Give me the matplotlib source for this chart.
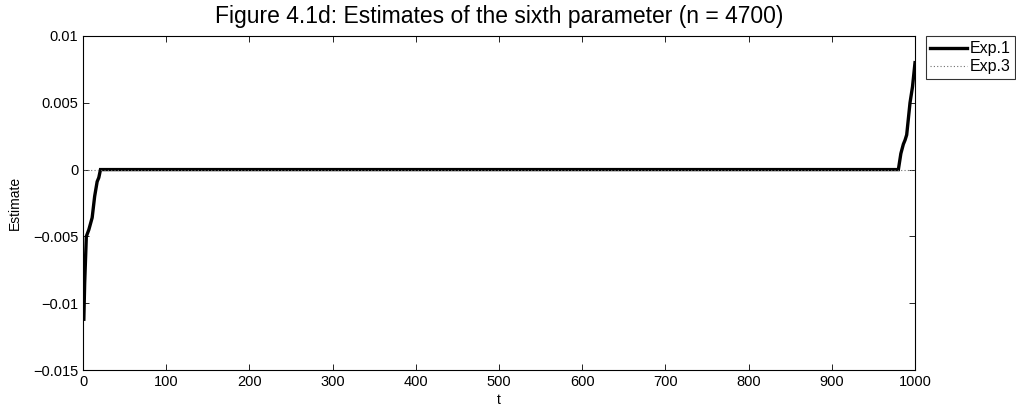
import numpy as np
import matplotlib
matplotlib.use('Agg')
import matplotlib.pyplot as plt

plt.rcParams['font.family'] = ['Liberation Sans', 'DejaVu Sans']

# Exp.1 estimate path
t1 = [1, 2, 4, 7, 11, 14, 17, 19, 21, 980, 983, 986, 988, 990, 992, 994, 997, 1000]
est1 = [-0.0112, -0.0085, -0.005, -0.0045, -0.0036, -0.002, -0.0009, -0.0006, 0.0,
        0.0, 0.0012, 0.0019, 0.0022, 0.0026, 0.0038, 0.005, 0.0062, 0.008]

# Exp.3 stays at zero
t3 = [1, 1000]
est3 = [0.0, 0.0]

xticks = [0, 100, 200, 300, 400, 500, 600, 700, 800, 900, 1000]
yticks = [-0.015, -0.01, -0.005, 0, 0.005, 0.01]
yticklabels = ['\u22120.015', '\u22120.01', '\u22120.005', '0', '0.005', '0.01']

fig = plt.figure(figsize=(10.16, 4.13), dpi=100)
ax = fig.add_axes([0.0817, 0.104, 0.8189, 0.809])

l1, = ax.plot(t1, est1, color='black', lw=2.4, label='Exp.1', solid_joinstyle='miter')
l3, = ax.plot(t3, est3, color='#707070', lw=0.8, ls=(0, (1, 2)), label='Exp.3')

ax.set_xlim(0, 1000)
ax.set_ylim(-0.015, 0.01)
ax.set_xticks(xticks)
ax.set_yticks(yticks)
ax.set_yticklabels(yticklabels)
ax.tick_params(direction='in', top=True, right=True, labelsize=10.5, length=4, width=0.6)
for s in ax.spines.values():
    s.set_linewidth(0.8)

ax.set_xlabel('t', fontsize=10, labelpad=3)
ax.set_ylabel('Estimate', fontsize=10, labelpad=8)
ax.set_title('Figure 4.1d: Estimates of the sixth parameter (n = 4700)', fontsize=16.5, pad=9)

leg = fig.legend(handles=[l1, l3], loc='upper left', bbox_to_anchor=(0.911, 0.912),
                 frameon=True, fancybox=False, edgecolor='black', fontsize=11.5,
                 handlelength=2.3, handletextpad=0.15, borderpad=0.3, labelspacing=0.2,
                 borderaxespad=0)
leg.get_frame().set_linewidth(0.8)

fig.savefig('out.png', dpi=100)
